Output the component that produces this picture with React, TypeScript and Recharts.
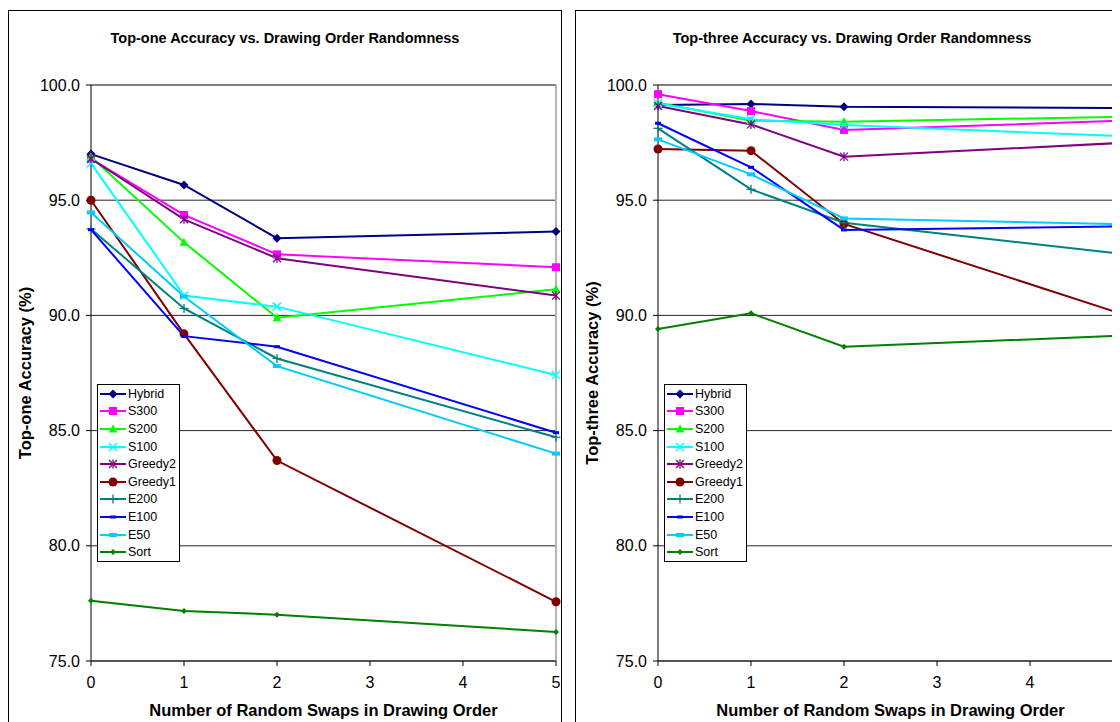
import React from "react"
import { LineChart, Line, XAxis, YAxis, CartesianGrid, ReferenceLine, Legend } from "recharts"

const swaps = [0, 1, 2, 5]
const xTicks = [0, 1, 2, 3, 4, 5]
const yTicks = [75, 80, 85, 90, 95, 100]
const methods = ["Hybrid", "S300", "S200", "S100", "Greedy2", "Greedy1", "E200", "E100", "E50", "Sort"]

// top-one accuracy (%), one value per swap count
const top1Hybrid = [97.0, 95.66, 93.35, 93.64]
const top1S300 = [96.79, 94.36, 92.65, 92.09]
const top1S200 = [96.89, 93.17, 89.9, 91.13]
const top1S100 = [96.6, 90.86, 90.38, 87.41]
const top1Greedy2 = [96.8, 94.17, 92.48, 90.86]
const top1Greedy1 = [95.0, 89.2, 83.7, 77.57]
const top1E200 = [93.75, 90.3, 88.13, 84.71]
const top1E100 = [93.72, 89.1, 88.64, 84.91]
const top1E50 = [94.47, 90.82, 87.8, 84.0]
const top1Sort = [77.62, 77.17, 77.01, 76.26]

// top-three accuracy (%)
const top3Hybrid = [99.13, 99.18, 99.06, 99.0]
const top3S300 = [99.6, 98.87, 98.05, 98.45]
const top3S200 = [99.23, 98.45, 98.41, 98.62]
const top3S100 = [99.2, 98.51, 98.26, 97.78]
const top3Greedy2 = [99.09, 98.29, 96.89, 97.49]
const top3Greedy1 = [97.22, 97.15, 93.97, 90.05]
const top3E200 = [98.12, 95.47, 94.02, 92.67]
const top3E100 = [98.34, 96.43, 93.71, 93.86]
const top3E50 = [97.64, 96.12, 94.21, 93.96]
const top3Sort = [89.41, 90.09, 88.64, 89.12]

const top1 = [top1Hybrid, top1S300, top1S200, top1S100, top1Greedy2, top1Greedy1, top1E200, top1E100, top1E50, top1Sort]
const top3 = [top3Hybrid, top3S300, top3S200, top3S100, top3Greedy2, top3Greedy1, top3E200, top3E100, top3E50, top3Sort]

const SERIES_STYLE: Record<string, { color: string; shape: string }> = {
  Hybrid: { color: "#000080", shape: "diamond" },
  S300: { color: "#ff00ff", shape: "square" },
  S200: { color: "#00ff00", shape: "triangle" },
  S100: { color: "#00ffff", shape: "x" },
  Greedy2: { color: "#800080", shape: "star" },
  Greedy1: { color: "#800000", shape: "circle" },
  E200: { color: "#008080", shape: "plus" },
  E100: { color: "#0000ff", shape: "dash" },
  E50: { color: "#00ccff", shape: "bar" },
  Sort: { color: "#008000", shape: "small" },
}

const FONT = "Arial, 'Liberation Sans', sans-serif"

function Marker({ shape, cx, cy, color }: any) {
  if (cx == null || cy == null) return <g />
  switch (shape) {
    case "diamond":
      return <polygon points={`${cx},${cy - 4.5} ${cx + 4.5},${cy} ${cx},${cy + 4.5} ${cx - 4.5},${cy}`} fill={color} />
    case "square":
      return <rect x={cx - 4} y={cy - 4} width={8} height={8} fill={color} />
    case "triangle":
      return <polygon points={`${cx},${cy - 4.5} ${cx + 4.5},${cy + 3.5} ${cx - 4.5},${cy + 3.5}`} fill={color} />
    case "x":
      return (
        <g stroke={color} strokeWidth={1.5}>
          <line x1={cx - 4} y1={cy - 4} x2={cx + 4} y2={cy + 4} />
          <line x1={cx - 4} y1={cy + 4} x2={cx + 4} y2={cy - 4} />
        </g>
      )
    case "star":
      return (
        <g stroke={color} strokeWidth={1.3}>
          <line x1={cx - 4} y1={cy - 4} x2={cx + 4} y2={cy + 4} />
          <line x1={cx - 4} y1={cy + 4} x2={cx + 4} y2={cy - 4} />
          <line x1={cx} y1={cy - 4.5} x2={cx} y2={cy + 4.5} />
        </g>
      )
    case "circle":
      return <circle cx={cx} cy={cy} r={4.5} fill={color} />
    case "plus":
      return (
        <g stroke={color} strokeWidth={1.3}>
          <line x1={cx - 4.5} y1={cy} x2={cx + 4.5} y2={cy} />
          <line x1={cx} y1={cy - 4.5} x2={cx} y2={cy + 4.5} />
        </g>
      )
    case "dash":
      return <rect x={cx - 3} y={cy - 1.5} width={6} height={3} fill={color} />
    case "bar":
      return <rect x={cx - 4} y={cy - 2} width={8} height={4} fill={color} />
    default:
      return <polygon points={`${cx},${cy - 3} ${cx + 3},${cy} ${cx},${cy + 3} ${cx - 3},${cy}`} fill={color} />
  }
}

const renderLegend = () => (
  <div
    style={{
      width: 81,
      height: 176,
      border: "1px solid #000",
      background: "#fff",
      fontFamily: FONT,
      fontSize: 12.5,
      color: "#000",
    }}
  >
    {methods.map((m) => {
      const s = SERIES_STYLE[m]
      return (
        <div key={m} style={{ display: "flex", alignItems: "center", height: 17.6 }}>
          <svg width={30} height={14} style={{ flex: "none" }}>
            <line x1={2} x2={28} y1={7} y2={7} stroke={s.color} strokeWidth={2} />
            <Marker shape={s.shape} cx={15} cy={7} color={s.color} />
          </svg>
          <span style={{ lineHeight: "14px" }}>{m}</span>
        </div>
      )
    })}
  </div>
)

function AccuracyChart({ title, yLabel, series, left }: any) {
  const rows = swaps.map((x, i) => {
    const row: any = { x }
    methods.forEach((m, j) => (row[m] = series[j][i]))
    return row
  })

  return (
    <div
      style={{
        position: "absolute",
        left,
        top: 2,
        width: 552,
        height: 728,
        border: "1px solid #000",
        background: "#fff",
      }}
    >
      <LineChart width={552} height={720} data={rows} margin={{ top: 74, right: 5, bottom: 10, left: 0 }}>
        <CartesianGrid vertical={false} stroke="#000" strokeOpacity={0.85} />
        <XAxis
          type="number"
          dataKey="x"
          domain={[0, 5]}
          ticks={xTicks}
          height={60}
          tickSize={5}
          tickMargin={11}
          axisLine={{ stroke: "#404040", strokeWidth: 1.5 }}
          tickLine={{ stroke: "#000" }}
          tick={{ fill: "#000", fontSize: 16, fontFamily: FONT }}
        />
        <YAxis
          type="number"
          domain={[75, 100]}
          ticks={yTicks}
          width={82}
          tickSize={5}
          tickMargin={6}
          tickFormatter={(v: number) => v.toFixed(1)}
          axisLine={{ stroke: "#000" }}
          tickLine={{ stroke: "#000" }}
          tick={{ fill: "#000", fontSize: 16, fontFamily: FONT }}
        />
        <ReferenceLine y={100} stroke="#808080" strokeWidth={2} />
        <ReferenceLine x={5} stroke="#b4b4b4" strokeWidth={2} />
        {methods.map((m) => {
          const s = SERIES_STYLE[m]
          return (
            <Line
              key={m}
              dataKey={m}
              stroke={s.color}
              strokeWidth={2}
              isAnimationActive={false}
              activeDot={false}
              dot={(p: any) => <Marker key={`${m}-${p.index}`} shape={s.shape} cx={p.cx} cy={p.cy} color={s.color} />}
            />
          )
        })}
        <Legend
          layout="vertical"
          verticalAlign="middle"
          align="center"
          content={renderLegend}
          wrapperStyle={{ left: 88, top: 373, width: 83, height: 178 }}
        />
      </LineChart>

      <div
        style={{
          position: "absolute",
          left: 0,
          top: 18,
          width: 552,
          textAlign: "center",
          fontFamily: FONT,
          fontWeight: "bold",
          fontSize: 14.5,
          lineHeight: "18px",
        }}
      >
        {title}
      </div>
      <div
        style={{
          position: "absolute",
          left: 82,
          top: 689,
          width: 465,
          textAlign: "center",
          fontFamily: FONT,
          fontWeight: "bold",
          fontSize: 16.5,
          lineHeight: "20px",
        }}
      >
        Number of Random Swaps in Drawing Order
      </div>
      <div
        style={{
          position: "absolute",
          left: 16 - 150,
          top: 352,
          width: 300,
          textAlign: "center",
          fontFamily: FONT,
          fontWeight: "bold",
          fontSize: 16.5,
          lineHeight: "20px",
          transform: "rotate(-90deg)",
        }}
      >
        {yLabel}
      </div>
    </div>
  )
}

export default function App() {
  return (
    <div style={{ position: "relative", width: 1112, height: 714, overflow: "hidden", fontFamily: FONT }}>
      <AccuracyChart
        title="Top-one Accuracy vs. Drawing Order Randomness"
        yLabel="Top-one Accuracy (%)"
        series={top1}
        left={0}
      />
      <AccuracyChart
        title="Top-three Accuracy vs. Drawing Order Randomness"
        yLabel="Top-three Accuracy (%)"
        series={top3}
        left={567}
      />
    </div>
  )
}
